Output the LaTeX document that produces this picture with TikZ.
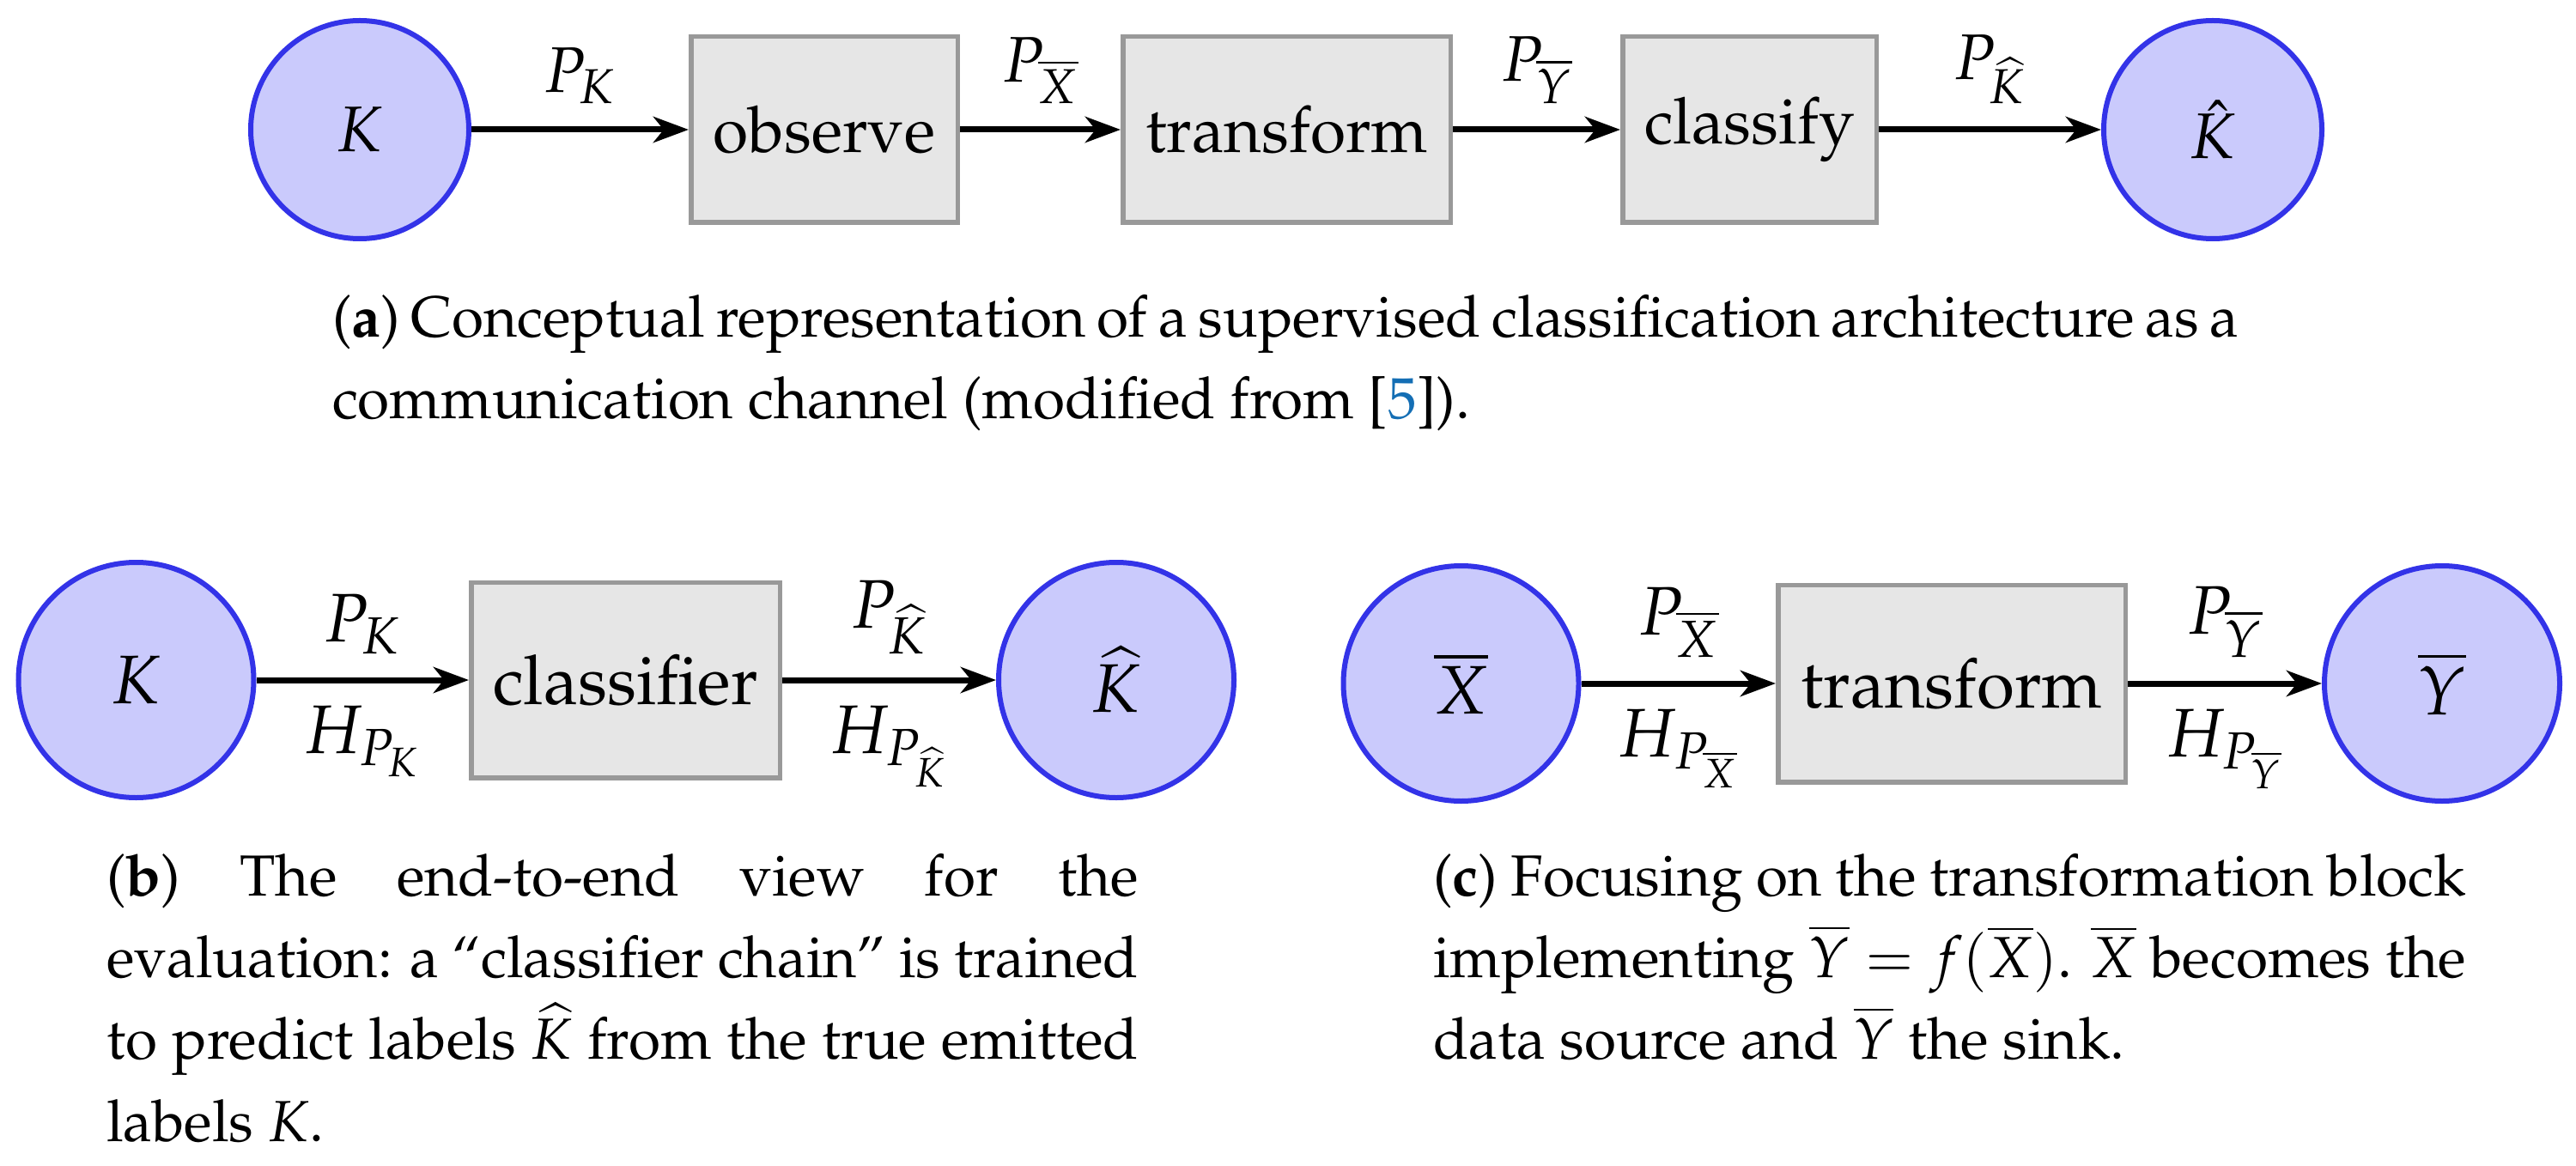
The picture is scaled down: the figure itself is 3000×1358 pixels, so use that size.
\documentclass[tikz,border=0pt]{standalone}
\usepackage[T1]{fontenc}
\usepackage{mathpazo}
\usetikzlibrary{arrows.meta}
\definecolor{cblue}{RGB}{51,51,232}
\definecolor{cfill}{RGB}{202,202,252}
\definecolor{bgray}{RGB}{153,153,153}
\definecolor{bfill}{RGB}{230,230,230}
\definecolor{citeblue}{RGB}{20,110,180}
\newcommand{\capfnt}{\fontsize{13.5}{19}\selectfont}
\newcommand{\nodefa}{\fontsize{15}{18}\selectfont}
\newcommand{\nodefb}{\fontsize{16}{19}\selectfont}
\tikzset{
  circ/.style={circle, draw=cblue, fill=cfill, line width=1.2pt, inner sep=0pt},
  blk/.style={rectangle, draw=bgray, fill=bfill, line width=1.1pt, inner sep=0pt},
  arr/.style={-{Stealth[length=8.2pt,width=6pt,inset=2.4pt]}, line width=1.4pt},
  lab/.style={inner sep=0pt, outer sep=0pt},
  captxt/.style={inner sep=0pt, outer sep=0pt, anchor=base west, font=\capfnt}
}
\begin{document}
\begin{tikzpicture}[x=0.2pt,y=-0.2pt]
\useasboundingbox (0,0) rectangle (3000,1358);
% ---------- (a)
\begin{scope}[every node/.append style={font=\nodefa}]
\node[circ, minimum size=50.8pt] (Ka) at (419,151) {$K$};
\node[blk, minimum width=62.1pt, minimum height=43.3pt] (obs) at (960,151) {observe};
\node[blk, minimum width=76.3pt, minimum height=43.3pt] (tra) at (1498.5,151) {transform};
\node[blk, minimum width=59.1pt, minimum height=43.3pt] (cls) at (2037.5,151) {classify};
\node[circ, minimum size=50.8pt] (Kha) at (2577,151) {$\hat{K}$};
\draw[arr] (Ka) -- node[lab, above=6pt] (pa1) {$P_K$} (obs);
\draw[arr] (obs) -- node[lab, above=6pt] (pa2) {$P_{\overline{X}}$} (tra);
\draw[arr] (tra) -- node[lab, above=6pt] (pa3) {$P_{\overline{Y}}$} (cls);
\draw[arr] (cls) -- node[lab, above=6pt] (pa4) {$P_{\widehat{K}}$} (Kha);
\end{scope}
\node[captxt] (ca1) at (387,393) {\makebox[443.2pt][s]{(\textbf{a}) Conceptual representation of a supervised classification architecture as a}};
\node[captxt] (ca2) at (387,488) {communication channel (modified from [\textcolor{citeblue}{5}]).};
% ---------- (b)
\begin{scope}[every node/.append style={font=\nodefb}]
\node[circ, minimum size=54.8pt] (Kb) at (158.5,792) {$K$};
\node[blk, minimum width=71.9pt, minimum height=45.5pt] (clb) at (728.5,792) {classifier};
\node[circ, minimum size=54.8pt] (Khb) at (1300,792) {$\widehat{K}$};
\draw[arr] (Kb) -- node[lab, above=6pt] (pb1) {$P_K$} node[lab, below=6pt] (hb1) {$H_{P_K}$} (clb);
\draw[arr] (clb) -- node[lab, above=6pt] (pb2) {$P_{\widehat{K}}$} node[lab, below=6pt] (hb2) {$H_{P_{\widehat{K}}}$} (Khb);
\end{scope}
\node[captxt] (cb1) at (124,1043) {\makebox[240.4pt][s]{(\textbf{b}) The end-to-end view for the}};
\node[captxt] (cb2) at (124,1138) {\makebox[240.4pt][s]{evaluation: a ``classifier chain'' is trained}};
\node[captxt] (cb3) at (124,1233) {\makebox[240.4pt][s]{to predict labels $\widehat{K}$ from the true emitted}};
\node[captxt] (cb4) at (124,1329) {labels $K$.};
% ---------- (c)
\begin{scope}[every node/.append style={font=\nodefb}]
\node[circ, minimum size=54.8pt] (Xc) at (1701.5,796) {$\overline{X}$};
\node[blk, minimum width=80.9pt, minimum height=45.9pt] (trc) at (2273,796) {transform};
\node[circ, minimum size=54.8pt] (Yc) at (2844,796) {$\overline{Y}$};
\draw[arr] (Xc) -- node[lab, above=6pt] (pc1) {$P_{\overline{X}}$} node[lab, below=6pt] (hc1) {$H_{P_{\overline{X}}}$} (trc);
\draw[arr] (trc) -- node[lab, above=6pt] (pc2) {$P_{\overline{Y}}$} node[lab, below=6pt] (hc2) {$H_{P_{\overline{Y}}}$} (Yc);
\end{scope}
\node[captxt] (cc1) at (1669,1043) {\makebox[240.6pt][s]{(\textbf{c}) Focusing on the transformation block}};
\node[captxt] (cc2) at (1669,1138) {\makebox[240.6pt][s]{implementing $\overline{Y}=f(\overline{X})$. $\overline{X}$ becomes the}};
\node[captxt] (cc3) at (1669,1233) {data source and $\overline{Y}$ the sink.};
\end{tikzpicture}
\end{document}
